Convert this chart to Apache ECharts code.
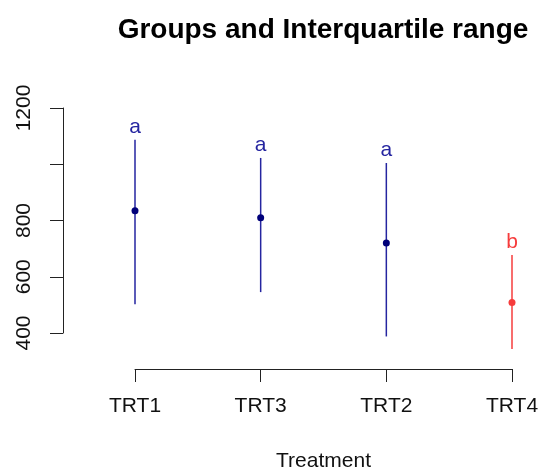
<!DOCTYPE html>
<html>
<head>
<meta charset="utf-8">
<script src="https://cdn.jsdelivr.net/npm/echarts@6/dist/echarts.min.js"></script>
<style>
  html, body { margin: 0; padding: 0; background: #fff; }
  #main { width: 539px; height: 471px; }
</style>
</head>
<body>
<div id="main"></div>
<script>
// data
var categories = ['TRT1', 'TRT3', 'TRT2', 'TRT4'];
var means = [834, 809, 719, 507];
var q1 = [501, 544, 386, 341];
var q3 = [1087, 1022, 1004, 676];
var groups = ['a', 'a', 'a', 'b'];
var yTicks = [400, 600, 800, 1000, 1200];

var blue = '#2525a0';
var red = '#f63c3c';
var font = 'Liberation Sans, Arial, sans-serif';

var rows = [];
for (var i = 0; i < categories.length; i++) {
    rows.push([i, q1[i], means[i], q3[i], groups[i]]);
}

var myChart = echarts.init(document.getElementById('main'));
myChart.setOption({
    animation: false,
    backgroundColor: '#fff',
    title: {
        text: 'Groups and Interquartile range',
        left: 318,
        textAlign: 'center',
        top: 11,
        textStyle: { fontFamily: font, fontSize: 28, fontWeight: 'bold', color: '#000' }
    },
    grid: [
        // y axis only (400..1200)
        { left: 63, top: 108, height: 225, width: 10, outerBoundsMode: 'none', containLabel: false },
        // data + category axis
        { left: 135, right: 27, top: 108, bottom: 102, outerBoundsMode: 'none', containLabel: false }
    ],
    xAxis: [
        { gridIndex: 0, type: 'value', show: false },
        {
            gridIndex: 1,
            type: 'category',
            data: categories,
            boundaryGap: false,
            axisLine: { lineStyle: { color: '#222', width: 1 } },
            axisTick: { show: true, length: 13, lineStyle: { color: '#222' } },
            axisLabel: { margin: 27, fontFamily: font, fontSize: 21, color: '#111' },
            name: 'Treatment',
            nameLocation: 'middle',
            nameGap: 82,
            nameTextStyle: { fontFamily: font, fontSize: 21, color: '#111' }
        }
    ],
    yAxis: [
        {
            gridIndex: 0,
            type: 'value',
            min: yTicks[0],
            max: yTicks[yTicks.length - 1],
            interval: 200,
            splitLine: { show: false },
            axisLine: { show: true, lineStyle: { color: '#222', width: 1 } },
            axisTick: { show: true, length: 13, lineStyle: { color: '#222' } },
            axisLabel: {
                rotate: 90,
                margin: 28,
                fontFamily: font,
                fontSize: 21,
                color: '#111',
                formatter: function (v) { return v === 1000 ? '' : String(v); }
            }
        },
        { gridIndex: 1, type: 'value', min: 270, max: 1200, show: false }
    ],
    series: [{
        type: 'custom',
        xAxisIndex: 1,
        yAxisIndex: 1,
        clip: false,
        data: rows,
        renderItem: function (params, api) {
            var x = api.value(0);
            var lo = api.coord([x, api.value(1)]);
            var mid = api.coord([x, api.value(2)]);
            var hi = api.coord([x, api.value(3)]);
            var g = rows[params.dataIndex][4];
            var c = g === 'b' ? red : blue;
            var dot = g === 'b' ? red : '#00007a';
            return {
                type: 'group',
                children: [
                    { type: 'line', shape: { x1: hi[0], y1: hi[1], x2: lo[0], y2: lo[1] },
                      style: { stroke: c, lineWidth: 1.5 } },
                    { type: 'circle', shape: { cx: mid[0], cy: mid[1], r: 3.5 },
                      style: { fill: dot } },
                    { type: 'text', x: hi[0], y: hi[1] - 13,
                      style: { text: g, fill: c, font: '21px ' + font, align: 'center', verticalAlign: 'middle' } }
                ]
            };
        }
    }]
});
</script>
</body>
</html>
